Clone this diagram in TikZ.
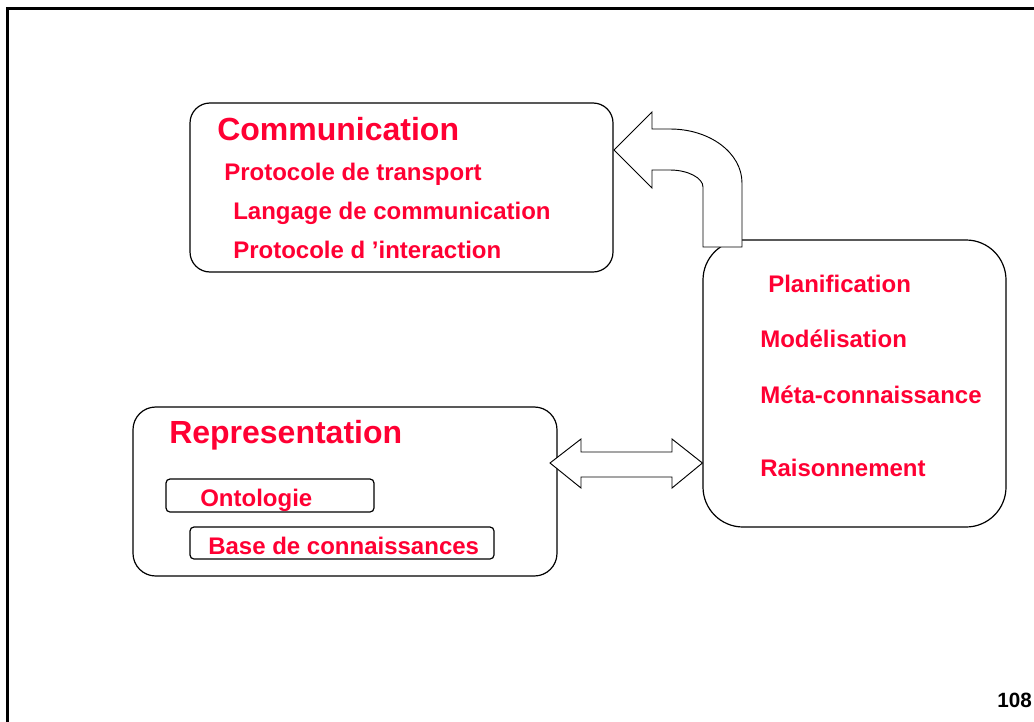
\documentclass[tikz,border=0pt]{standalone}
\usepackage{fontspec}
\setmainfont{Liberation Sans}
\definecolor{labelred}{RGB}{255,0,51}
\tikzset{box node/.style={draw,line width=0.9pt,rounded corners=15pt,inner sep=0pt},
         sub node/.style={draw,line width=0.9pt,rounded corners=3pt,inner sep=0pt},
         title text/.style={anchor=base west,inner sep=0pt,text=labelred,font=\bfseries\fontsize{24}{28}\selectfont},
         item text/.style={anchor=base west,inner sep=0pt,text=labelred,font=\bfseries\fontsize{18}{21}\selectfont},
         block arrow/.style={draw,fill=white,line width=0.7pt,line join=miter}}

\begin{document}
\begin{tikzpicture}[x=0.75pt,y=-0.75pt]
            \useasboundingbox (0,0) rectangle (1034,721);
            \draw[line width=2.25pt] (7.5,730) -- (7.5,8.5) -- (1040,8.5);

            \node[box node, minimum width=317.25pt, minimum height=126.75pt] (comm) at (401.5,187.5) {};
            \node[box node, minimum width=318pt, minimum height=126.75pt, rounded corners=17pt] (repr) at (345,491.5) {};
            \node[box node, minimum width=227.25pt, minimum height=215.25pt, rounded corners=30pt] (agent) at (854.5,383.5) {};
            \node[sub node, minimum width=156pt, minimum height=24.75pt] (onto) at (270,495.5) {};
            \node[sub node, minimum width=228pt, minimum height=24pt] (kb) at (342,543) {};

            % curved arrow from the agent box back to communication
            \coordinate (tip) at (614,150);
            \draw[block arrow] (tip) -- (652,112) -- (652,129) -- (670,129)
                .. controls (710,129) and (742,153) .. (742,183) -- (742,247) -- (703,247) -- (703,187)
                .. controls (703,178) and (688,170) .. (670,170) -- (652,170) -- (652,188) -- cycle;

            % double arrow between representation and agent box
            \coordinate (left tip) at (550,463);
            \draw[block arrow] (left tip) -- (581,439) -- (581,452) -- (672,452) -- (672,439)
                -- (agent.west |- left tip) -- (672,488) -- (672,477) -- (581,477) -- (581,488) -- cycle;

            \node[title text] (commtitle) at (217,140) {Communication};
            \node[item text] (transport) at (224,180) {Protocole de transport};
            \node[item text] (langage) at (233,219) {Langage de communication};
            \node[item text] (interaction) at (233,258) {Protocole d ’interaction};

            \node[title text] (reprtitle) at (169,443) {Representation};
            \node[item text] (ontotext) at (200,506) {Ontologie};
            \node[item text] (kbtext) at (208,554) {Base de connaissances};

            \node[item text] (plan) at (768,292) {Planification};
            \node[item text] (model) at (760,347) {Modélisation};
            \node[item text] (meta) at (760,403) {Méta-connaissance};
            \node[item text] (reason) at (760,476) {Raisonnement};

            \node[anchor=base west,inner sep=0pt,font=\bfseries\fontsize{15.5}{18}\selectfont] (page) at (997,707) {108};
        \end{tikzpicture}
\end{document}
